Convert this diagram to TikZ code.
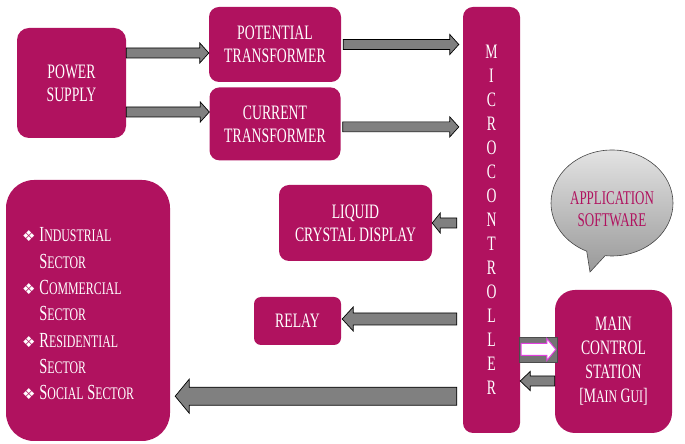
\documentclass[tikz,border=0pt]{standalone}
\usepackage{fontspec}
\setmainfont{Liberation Serif}[FakeStretch=0.67]
\newfontfamily\symfont{DejaVu Sans}
\usetikzlibrary{positioning, calc, shapes.callouts}

\definecolor{boxmagenta}{HTML}{B0125F}
\definecolor{arrowgray}{HTML}{808080}
\definecolor{linkgray}{HTML}{747474}
\definecolor{linkpink}{HTML}{E23FE0}

% fake small caps: big first letter, smaller rest
\newcommand\fsc[2]{#1{\fontsize{17.7}{26}\selectfont #2}}
\newcommand\bul{{\fontsize{15}{26}\selectfont\symfont ❖}}

\tikzset{
  shafthalf/.store in=\shafthalf, headhalf/.store in=\headhalf, headlen/.store in=\headlen,
  shafthalf=5pt, headhalf=10pt, headlen=9pt
}

\begin{document}
\begin{tikzpicture}[
  x=1pt, y=1pt,
  box/.style={rectangle, rounded corners=10pt, fill=boxmagenta, text=white, align=center,
    inner sep=2pt, font=\fontsize{20.5}{23}\selectfont},
  barrow/.style={fill=arrowgray, draw=black, line width=0.7pt, line join=miter,
    to path={let \p1=(\tikztostart), \p2=(\tikztotarget), \n1={ifthenelse(\x2>\x1,1,-1)} in
      (\x1,{\y1+\shafthalf}) -- ({\x2-(\n1)*\headlen},{\y1+\shafthalf})
      -- ({\x2-(\n1)*\headlen},{\y1+\headhalf}) -- (\x2,\y1)
      -- ({\x2-(\n1)*\headlen},{\y1-\headhalf}) -- ({\x2-(\n1)*\headlen},{\y1-\shafthalf})
      -- (\x1,{\y1-\shafthalf}) -- cycle}},
  warrow/.style={fill=white, draw=linkpink, line width=1pt, shafthalf=6pt, headhalf=11pt, headlen=9pt},
  linkbox/.style={fill=linkgray, draw=black!70, line width=0.6pt},
  callout/.style={ellipse callout, callout absolute pointer={(590,172)}, callout pointer arc=18,
    minimum width=122pt, minimum height=106pt, inner sep=0pt, top color=gray!22, bottom color=gray!80,
    draw=gray!55!black, line width=0.6pt, text=boxmagenta, align=center,
    font=\fontsize{19.4}{22}\selectfont}
]
\useasboundingbox (0,0) rectangle (685,444);

\node[box, rounded corners=12pt, minimum width=109pt, minimum height=110pt] (ps) at (71.5,361) {POWER\\SUPPLY};
\node[box, minimum width=132pt, minimum height=75pt] (pt) at (275,399.5) {POTENTIAL\\TRANSFORMER};
\node[box, minimum width=131pt, minimum height=73pt, below=5pt of pt] (ct) {CURRENT\\TRANSFORMER};
\node[box, minimum width=57pt, minimum height=426pt, font=\fontsize{20.5}{24}\selectfont] (mc) at (491.5,224)
  {M\\I\\C\\R\\O\\C\\O\\N\\T\\R\\O\\L\\L\\E\\R};
\node[box, minimum width=153pt, minimum height=76pt] (lcd) at (355.5,221) {LIQUID\\CRYSTAL DISPLAY};
\node[box, rounded corners=7pt, minimum width=87pt, minimum height=48pt] (relay) at (297.5,123) {RELAY};
\node[box, rounded corners=28pt, minimum width=164pt, minimum height=261pt,
  font=\fontsize{21.5}{26.3}\selectfont] (sec) at (88,133.5)
  {\hspace*{-20pt}\raisebox{-5pt}[\height][\depth]{\begin{tabular}{@{}l@{\hspace{4pt}}l@{}}
   \bul & \fsc{I}{NDUSTRIAL}\\
        & \fsc{S}{ECTOR}\\
   \bul & \fsc{C}{OMMERCIAL}\\
        & \fsc{S}{ECTOR}\\
   \bul & \fsc{R}{ESIDENTIAL}\\
        & \fsc{S}{ECTOR}\\
   \bul & \fsc{S}{OCIAL} \fsc{S}{ECTOR}
   \end{tabular}}};
\node[box, rounded corners=20pt, minimum width=117pt, minimum height=143pt,
  font=\fontsize{20.5}{24}\selectfont] (mcs) at (613.5,82.5)
  {MAIN\\CONTROL\\STATION\\{[}\fsc{M}{AIN} \fsc{G}{UI}]};
\node[callout] (app) at (612,241)
  {\raisebox{-8pt}[\height][\depth]{\begin{tabular}{@{}c@{}}APPLICATION\\SOFTWARE\end{tabular}}};

\draw[barrow] ([yshift=30]ps.east) to (pt.west);
\draw[barrow] ([yshift=-29]ps.east) to (ct.west);
\draw[barrow] ([xshift=2]pt.east) to ([xshift=-4]mc.west);
\draw[barrow] ([xshift=2,yshift=-3]ct.east) to ([xshift=-4]mc.west);
\draw[barrow, headlen=8pt] ([xshift=-6]mc.west |- lcd.east) to (lcd.east);
\draw[barrow, shafthalf=6pt, headhalf=12pt, headlen=11pt] ([xshift=-6,yshift=2]mc.west |- relay.east) to ([xshift=1]relay.east);
\draw[barrow, shafthalf=9pt, headhalf=17pt, headlen=14pt] ([xshift=-6,yshift=37]mc.south west) to ([xshift=5]sec.east);
\filldraw[linkbox] ([xshift=-1,yshift=-0.5]mc.east |- mcs.west) rectangle ([xshift=2,yshift=24.5]mcs.west);
\draw[barrow, warrow] ([xshift=1,yshift=12]mc.east |- mcs.west) to ([xshift=1]mcs.west);
\draw[barrow, headhalf=9.5pt, headlen=10pt] ([yshift=-19.5]mcs.west) to (mc.east);

\end{tikzpicture}
\end{document}
